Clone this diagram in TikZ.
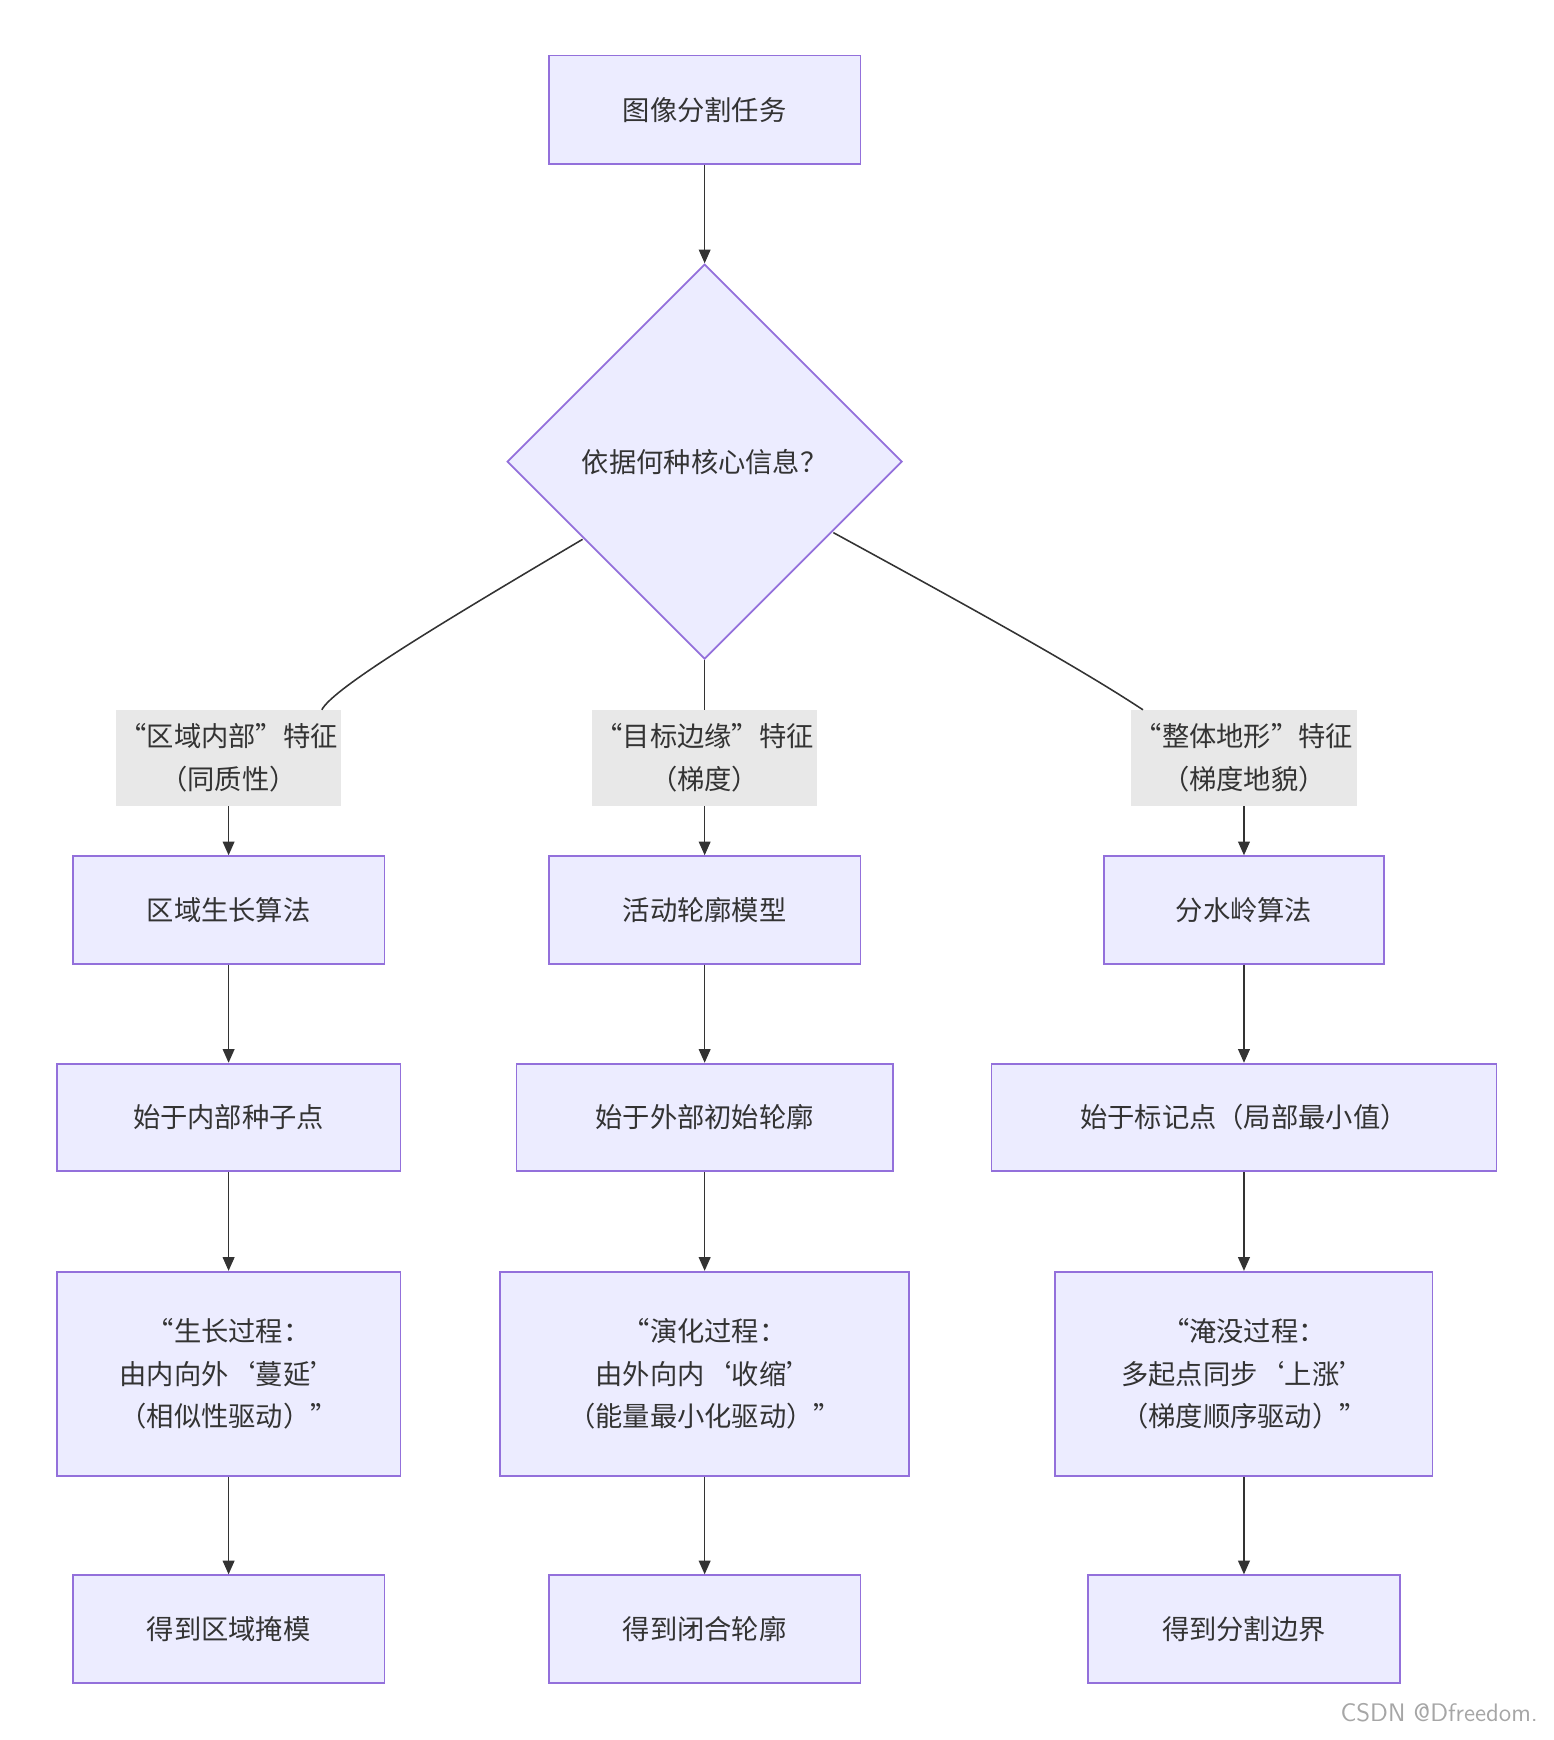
\documentclass[tikz,border=0pt]{standalone}
\usepackage{fontspec}
\setmainfont{Noto Sans CJK SC}
\usetikzlibrary{shapes.geometric,arrows.meta}
\definecolor{bfill}{HTML}{ECECFF}
\definecolor{bdraw}{HTML}{9370DB}
\definecolor{lab}{HTML}{E8E8E8}
\definecolor{ln}{HTML}{333333}
\begin{document}
\begin{tikzpicture}[x=0.02cm,y=-0.02cm,
  box/.style={draw=bdraw,fill=bfill,line width=0.9pt,inner sep=0,align=center,font=\fontsize{14}{22}\selectfont,text=ln},
  labl/.style={fill=lab,inner sep=0,align=center,font=\fontsize{14}{22}\selectfont,text=ln,minimum width=4.06cm,minimum height=1.72cm},
  arr/.style={draw=ln,line width=0.8pt,-{Triangle[length=7pt,width=6pt]}},
  ln/.style={draw=ln,line width=0.8pt}]
\useasboundingbox (0,0) rectangle (1400,1568);
\node[box,minimum width=5.62cm,minimum height=1.96cm] (top) at (635,99) {图像分割任务};
\node[box,diamond,minimum width=7.12cm,minimum height=7.12cm] (dec) at (635,416) {依据何种核心信息？};
\node[labl] (l1) at (206,683) {“区域内部”特征\\（同质性）};
\node[labl] (l2) at (635,683) {“目标边缘”特征\\（梯度）};
\node[labl] (l3) at (1121,683) {“整体地形”特征\\（梯度地貌）};
\node[box,minimum width=5.62cm,minimum height=1.94cm] (a1) at (206,820) {区域生长算法};
\node[box,minimum width=5.62cm,minimum height=1.94cm] (b1) at (635,820) {活动轮廓模型};
\node[box,minimum width=5.06cm,minimum height=1.94cm] (c1) at (1121,820) {分水岭算法};
\node[box,minimum width=6.2cm,minimum height=1.94cm] (a2) at (206,1007) {始于内部种子点};
\node[box,minimum width=6.78cm,minimum height=1.94cm] (b2) at (635,1007) {始于外部初始轮廓};
\node[box,minimum width=9.1cm,minimum height=1.94cm] (c2) at (1121,1007) {始于标记点（局部最小值）};
\node[box,minimum width=6.2cm,minimum height=3.68cm] (a3) at (206,1238) {“生长过程：\\由内向外‘蔓延’\\（相似性驱动）”};
\node[box,minimum width=7.38cm,minimum height=3.68cm] (b3) at (635,1238) {“演化过程：\\由外向内‘收缩’\\（能量最小化驱动）”};
\node[box,minimum width=6.8cm,minimum height=3.68cm] (c3) at (1121,1238) {“淹没过程：\\多起点同步‘上涨’\\（梯度顺序驱动）”};
\node[box,minimum width=5.62cm,minimum height=1.94cm] (a4) at (206,1468) {得到区域掩模};
\node[box,minimum width=5.62cm,minimum height=1.94cm] (b4) at (635,1468) {得到闭合轮廓};
\node[box,minimum width=5.62cm,minimum height=1.94cm] (c4) at (1121,1468) {得到分割边界};
\node[anchor=east,text=gray!70,font=\fontsize{13}{15}\selectfont\sffamily] (wm) at (1392,1543) {CSDN @Dfreedom.};
\draw[arr] (top) -- (dec);
\draw[ln] (525,486) .. controls (400,560) and (300,620) .. (l1.north-|290,0);
\draw[ln] (dec.south) -- (l2.north);
\draw[ln] (751,480) .. controls (870,545) and (970,600) .. (l3.north-|1030,0);
\draw[arr] (l1.south) .. controls (206,740) and (206,745) .. (a1.north);
\draw[arr] (l2) -- (b1);
\draw[arr] (l3.south) .. controls (1121,740) and (1121,745) .. (c1.north);
\foreach \c in {a,b,c}{
  \draw[arr] (\c1) -- (\c2);
  \draw[arr] (\c2) -- (\c3);
  \draw[arr] (\c3) -- (\c4);
}
\end{tikzpicture}
\end{document}
